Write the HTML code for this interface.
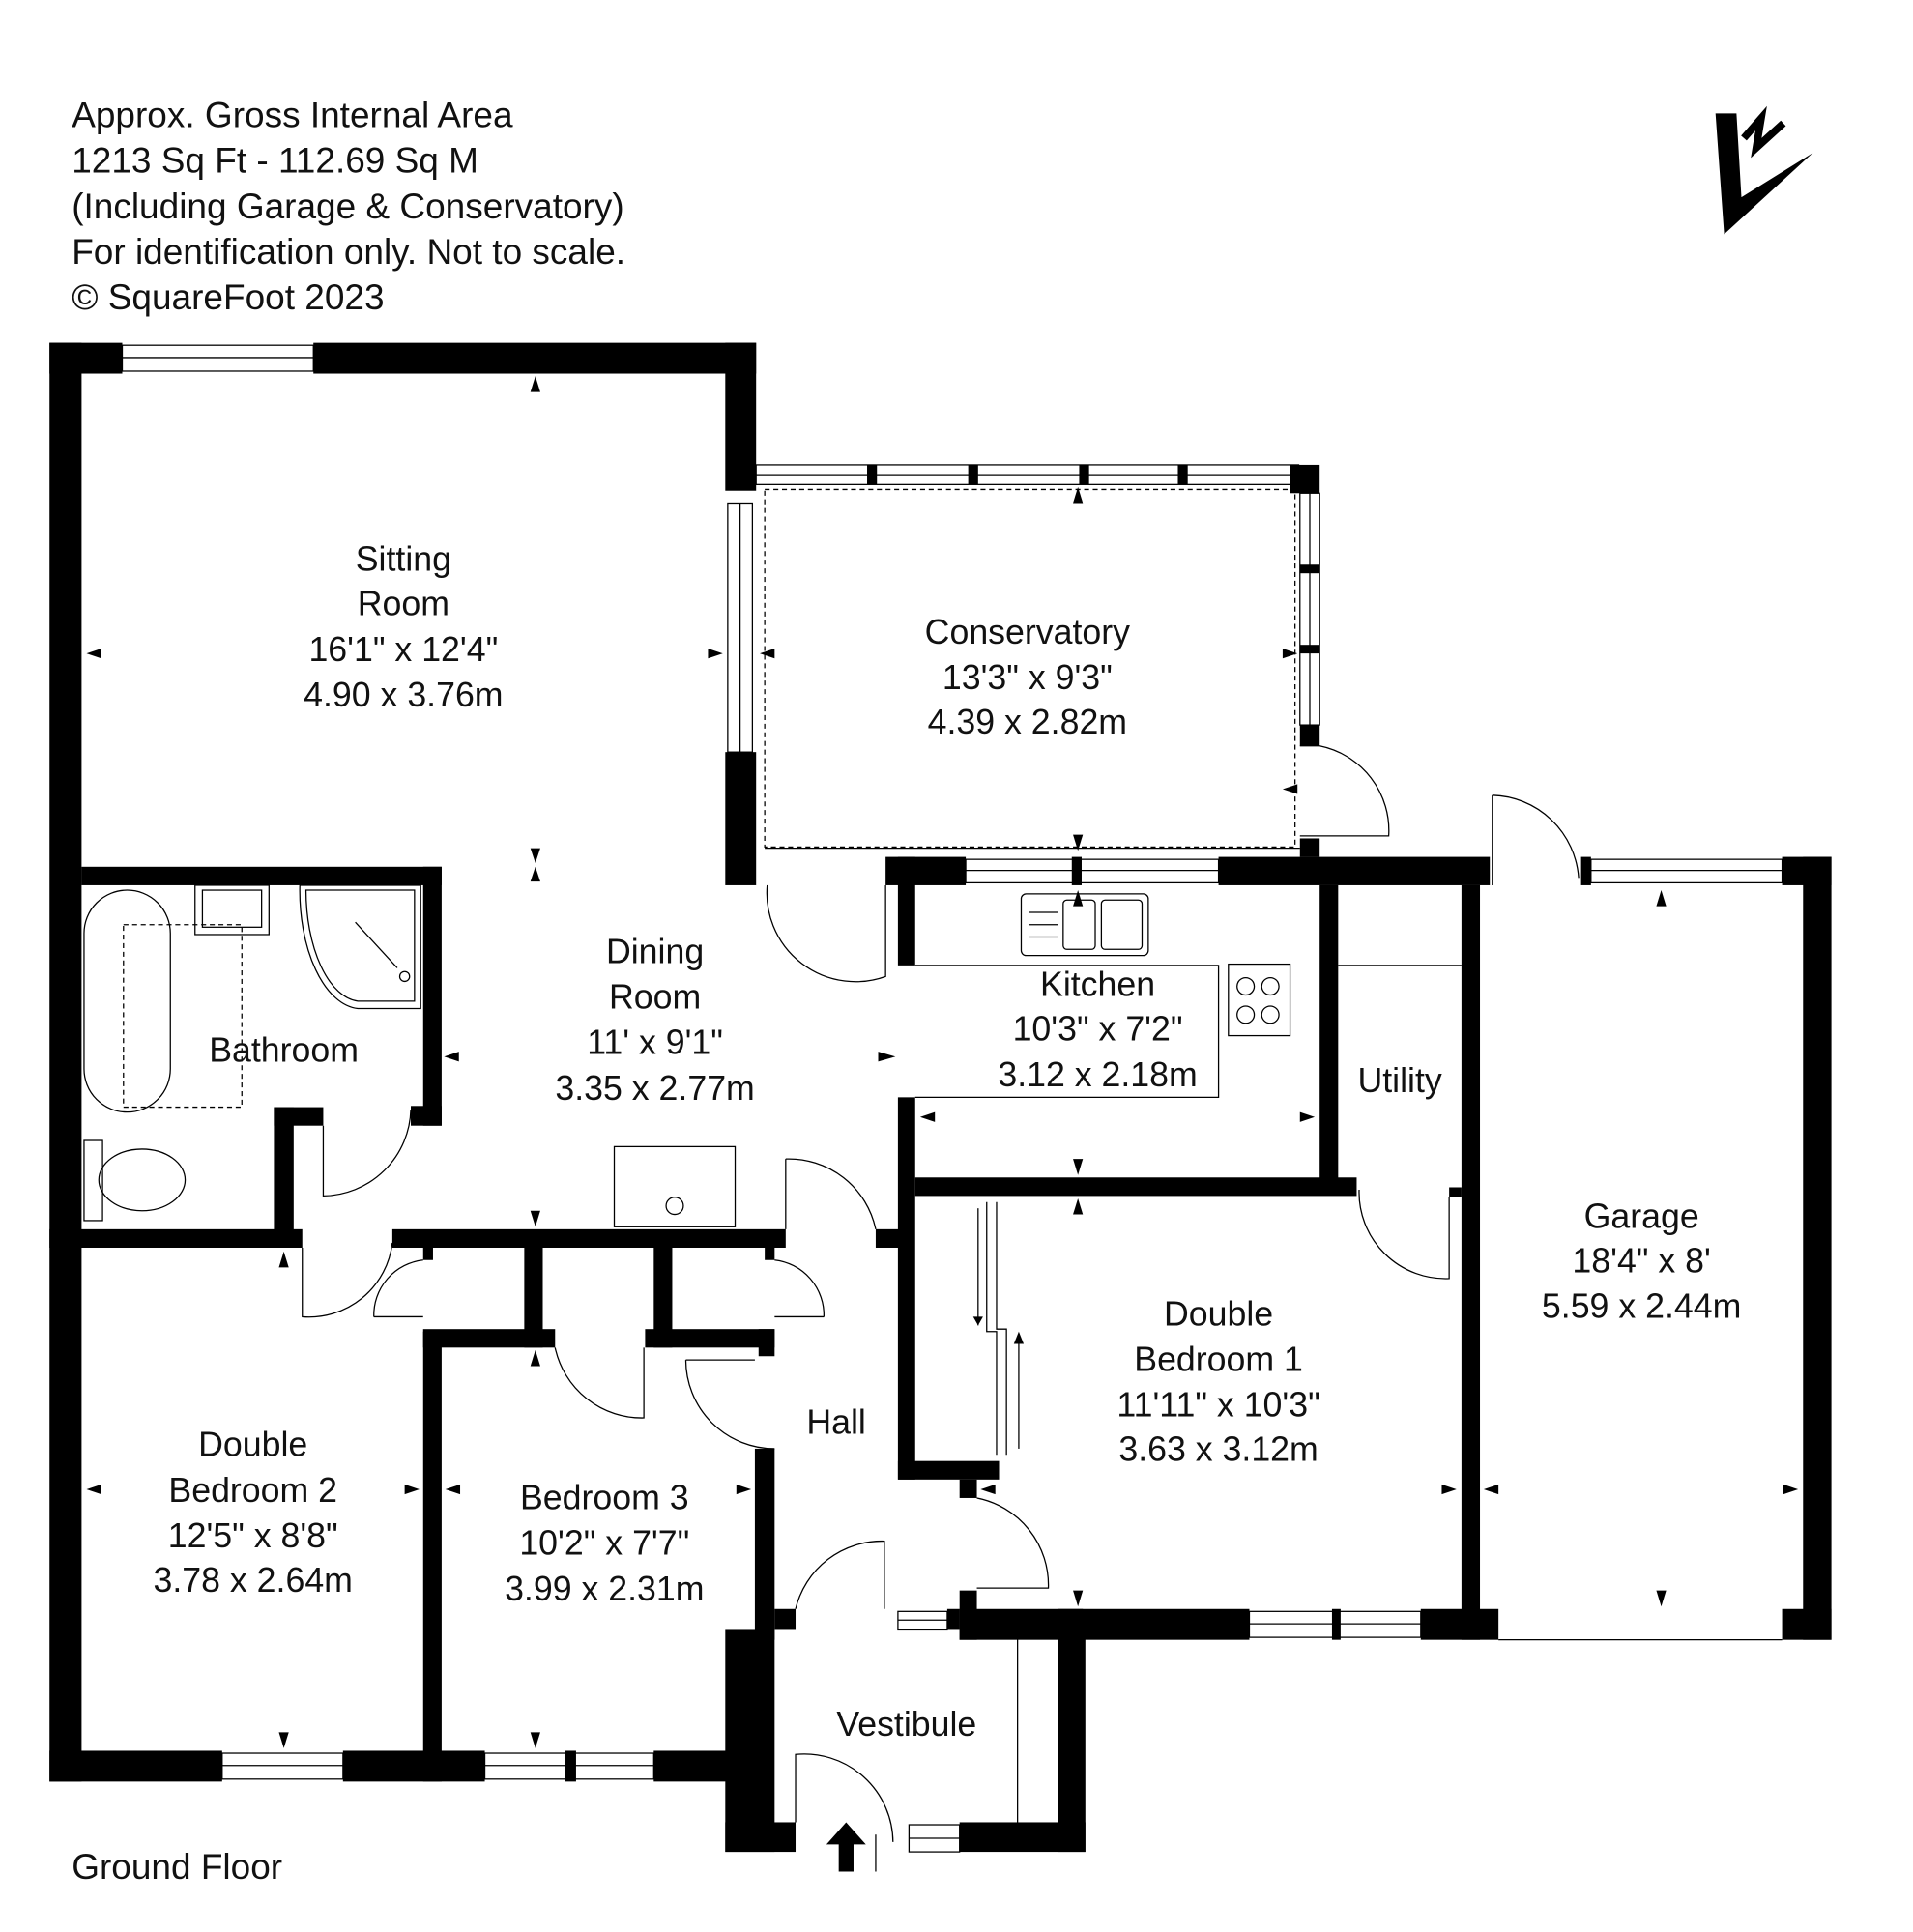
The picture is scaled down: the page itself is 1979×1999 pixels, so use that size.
<!DOCTYPE html>
<html><head><meta charset="utf-8"><style>
html,body{margin:0;padding:0;background:#fff;}
svg{display:block;}
text{font-family:"Liberation Sans",Arial,sans-serif;fill:#111;}
</style></head><body>
<svg width="1979" height="1999" viewBox="0 0 1551 1567" xmlns="http://www.w3.org/2000/svg">
<rect width="1551" height="1567" fill="#fff"/>
<g font-size="29">
<text x="58" y="103">Approx. Gross Internal Area</text>
<text x="58" y="140">1213 Sq Ft  -  112.69 Sq M</text>
<text x="58" y="177">(Including Garage &amp; Conservatory)</text>
<text x="58" y="214">For identification only. Not to scale.</text>
<text x="58" y="251">© SquareFoot 2023</text>
<text x="58" y="1524">Ground Floor</text>
</g>
<polygon points="1391,92 1408,92 1412,160 1470,124 1398,190" fill="#000"/>
<path d="M1414,112 L1428,96 L1424,120 L1446,100" stroke="#000" stroke-width="6" fill="none"/>

<g fill="#000">
<rect x="40" y="278" width="59" height="25"/>
<rect x="254" y="278" width="359" height="25"/>
<rect x="40" y="278" width="26" height="1167"/>
<rect x="588" y="278" width="25" height="120"/>
<rect x="588" y="610" width="25" height="108"/>
<rect x="703" y="377" width="8" height="16"/><rect x="785" y="377" width="8" height="16"/>
<rect x="875" y="377" width="8" height="16"/><rect x="955" y="377" width="8" height="16"/>
<rect x="1046" y="377" width="24" height="23"/>
<rect x="1054" y="458" width="16" height="7"/><rect x="1054" y="523" width="16" height="7"/>
<rect x="1054" y="588" width="16" height="17"/>
<rect x="1054" y="680" width="16" height="15"/>
<rect x="718" y="695" width="65" height="23"/>
<rect x="988" y="695" width="220" height="23"/>
<rect x="869" y="695" width="8" height="23"/>
<rect x="1282" y="695" width="8" height="23"/>
<rect x="1445" y="695" width="40" height="23"/>
<rect x="1462" y="695" width="23" height="635"/>
<rect x="1445" y="1305" width="40" height="25"/>
<rect x="728" y="695" width="14" height="88"/>
<rect x="728" y="890" width="14" height="310"/>
<rect x="710" y="997" width="20" height="15"/>
<rect x="742" y="955" width="358" height="15"/>
<rect x="1070" y="718" width="15" height="247"/>
<rect x="1185" y="718" width="15" height="612"/>
<rect x="1175" y="963" width="10" height="8"/>
<rect x="728" y="1185" width="82" height="15"/>
<rect x="778" y="1200" width="14" height="15"/>
<rect x="778" y="1290" width="14" height="40"/>
<rect x="778" y="1305" width="235" height="25"/>
<rect x="1080" y="1305" width="7" height="25"/>
<rect x="1152" y="1305" width="63" height="25"/>
<rect x="66" y="703" width="292" height="15"/>
<rect x="343" y="703" width="15" height="210"/>
<rect x="333" y="897" width="25" height="16"/>
<rect x="222" y="898" width="40" height="15"/>
<rect x="222" y="898" width="16" height="112"/>
<rect x="40" y="997" width="205" height="15"/>
<rect x="318" y="997" width="319" height="15"/>
<rect x="343" y="1012" width="8" height="10"/>
<rect x="620" y="1012" width="8" height="10"/>
<rect x="425" y="1012" width="15" height="81"/>
<rect x="530" y="1012" width="15" height="81"/>
<rect x="343" y="1078" width="107" height="15"/>
<rect x="523" y="1078" width="105" height="15"/>
<rect x="615" y="1078" width="13" height="22"/>
<rect x="343" y="1080" width="15" height="365"/>
<rect x="40" y="1420" width="140" height="25"/>
<rect x="278" y="1420" width="115" height="25"/>
<rect x="458" y="1420" width="9" height="25"/>
<rect x="530" y="1420" width="80" height="25"/>
<rect x="612" y="1175" width="16" height="155"/>
<!-- vestibule -->
<rect x="588" y="1322" width="40" height="180"/>
<rect x="588" y="1478" width="57" height="24"/>
<rect x="778" y="1478" width="102" height="24"/>
<rect x="858" y="1322" width="22" height="180"/>
<rect x="628" y="1305" width="17" height="17"/>
<rect x="768" y="1305" width="10" height="17"/>
<rect x="858" y="1305" width="20" height="25"/>
<polygon points="670,1496 686,1478 702,1496 692,1496 692,1518 680,1518 680,1496"/>
</g>

<g fill="none" stroke="#000" stroke-width="1">
<rect x="99" y="280" width="155" height="21"/><line x1="99" y1="290" x2="254" y2="290"/>
<rect x="590" y="408" width="20" height="202"/><line x1="600" y1="408" x2="600" y2="610"/>
<rect x="613" y="377" width="440" height="16"/><line x1="613" y1="385" x2="1046" y2="385"/>
<rect x="1054" y="400" width="16" height="188"/><line x1="1062" y1="400" x2="1062" y2="588"/>
<rect x="783" y="697" width="205" height="19"/><line x1="783" y1="706" x2="988" y2="706"/>
<rect x="1290" y="697" width="155" height="19"/><line x1="1290" y1="706" x2="1445" y2="706"/>
<rect x="1013" y="1307" width="139" height="21"/><line x1="1013" y1="1317" x2="1152" y2="1317"/>
<rect x="180" y="1422" width="98" height="21"/><line x1="180" y1="1432" x2="278" y2="1432"/>
<rect x="393" y="1422" width="137" height="21"/><line x1="393" y1="1432" x2="530" y2="1432"/>
<rect x="728" y="1307" width="40" height="15"/><line x1="728" y1="1314" x2="768" y2="1314"/>
<rect x="737" y="1480" width="41" height="22"/><line x1="737" y1="1491" x2="778" y2="1491"/>
<line x1="1215" y1="1330" x2="1445" y2="1330"/>
<line x1="825" y1="1322" x2="825" y2="1478"/>
<line x1="620" y1="688" x2="1054" y2="688"/>
<rect x="620" y="397" width="430" height="290" stroke-dasharray="4,3"/>
<path d="M1054,605 L1070,605 A70,70 0 0 1 1126,678 L1054,678"/>
<path d="M1210,645 L1210,718 M1210,645 A72,72 0 0 1 1280,712"/>
<path d="M622,718 A72,72 0 0 0 718,792 L718,718"/>
<path d="M262,913 L262,970 A72,72 0 0 0 333,900"/>
<path d="M245,1012 L245,1068 A68,68 0 0 0 318,1008"/>
<path d="M303,1068 L343,1068 M303,1068 A45,45 0 0 1 343,1022"/>
<path d="M668,1068 L628,1068 M668,1068 A45,45 0 0 0 628,1022"/>
<path d="M450,1093 A72,72 0 0 0 522,1150 L522,1093"/>
<path d="M556,1103 L612,1103 M556,1103 A72,72 0 0 0 628,1175"/>
<path d="M637,940 L637,997 M637,940 A72,72 0 0 1 710,997"/>
<path d="M1102,965 A70,70 0 0 0 1175,1037 L1175,971"/>
<path d="M792,1215 A72,72 0 0 1 850,1288 L792,1288"/>
<path d="M645,1305 A72,72 0 0 1 717,1250 L717,1305"/>
<path d="M645,1478 L645,1423 A72,72 0 0 1 724,1494"/>
<path d="M710,1488 L710,1518"/>
<path d="M742,783 L988,783 L988,890 L742,890"/>
<rect x="828" y="725" width="103" height="50" rx="4"/>
<rect x="862" y="730" width="26" height="40" rx="3"/><rect x="893" y="730" width="33" height="40" rx="3"/>
<line x1="834" y1="740" x2="858" y2="740"/><line x1="834" y1="750" x2="858" y2="750"/><line x1="834" y1="760" x2="858" y2="760"/>
<rect x="996" y="782" width="50" height="58"/>
<circle cx="1010" cy="800" r="7"/><circle cx="1030" cy="800" r="7"/><circle cx="1010" cy="823" r="7"/><circle cx="1030" cy="823" r="7"/>
<line x1="1085" y1="783" x2="1185" y2="783"/>
<rect x="498" y="930" width="98" height="65"/><circle cx="547" cy="978" r="7"/>
<rect x="68" y="722" width="70" height="180" rx="35"/>
<rect x="100" y="750" width="96" height="148" stroke-dasharray="4,3"/>
<rect x="158" y="718" width="60" height="40"/><rect x="164" y="722" width="48" height="30"/>
<path d="M248,722 L336,722 L336,812 L290,812 A45,90 0 0 1 248,722 Z"/>
<path d="M243,718 L341,718 L341,818 L290,818 A50,96 0 0 1 243,718"/>
<line x1="288" y1="748" x2="322" y2="785"/><circle cx="328" cy="792" r="4"/>
<rect x="68" y="925" width="15" height="65"/>
<ellipse cx="115" cy="957" rx="35" ry="25"/>
<path d="M800,975 L800,1080 L808,1080 L808,1180"/>
<path d="M808,975 L808,1078 L816,1078 L816,1180"/>
<line x1="793" y1="980" x2="793" y2="1075"/><line x1="826" y1="1085" x2="826" y2="1175"/>
</g>
<g fill="#000">
<polygon points="789,1068 793,1075 797,1068"/>
<polygon points="822,1090 826,1080 830,1090"/>
</g>

<g fill="#000">
<polygon points="430,318 434,305 438,318"/>
<polygon points="70,530 82,526 82,534"/><polygon points="586,530 574,526 574,534"/>
<polygon points="430,688 434,700 438,688"/><polygon points="430,715 434,703 438,715"/>
<polygon points="870,408 874,395 878,408"/><polygon points="870,677 874,690 878,677"/>
<polygon points="616,530 628,526 628,534"/><polygon points="1052,530 1040,526 1040,534"/>
<polygon points="1040,640 1052,636 1052,644"/>
<polygon points="870,735 874,722 878,735"/>
<polygon points="360,857 372,853 372,861"/><polygon points="726,857 712,853 712,861"/>
<polygon points="430,982 434,995 438,982"/>
<polygon points="746,906 758,902 758,910"/><polygon points="1066,906 1054,902 1054,910"/>
<polygon points="870,940 874,953 878,940"/><polygon points="870,985 874,972 878,985"/>
<polygon points="1343,735 1347,722 1351,735"/><polygon points="1343,1290 1347,1303 1351,1290"/>
<polygon points="226,1028 230,1015 234,1028"/>
<polygon points="70,1208 82,1204 82,1212"/><polygon points="340,1208 328,1204 328,1212"/>
<polygon points="361,1208 373,1204 373,1212"/><polygon points="609,1208 597,1204 597,1212"/>
<polygon points="430,1108 434,1095 438,1108"/>
<polygon points="226,1405 230,1418 234,1405"/><polygon points="430,1405 434,1418 438,1405"/>
<polygon points="795,1208 807,1204 807,1212"/><polygon points="1181,1208 1169,1204 1169,1212"/>
<polygon points="1203,1208 1215,1204 1215,1212"/><polygon points="1458,1208 1446,1204 1446,1212"/>
<polygon points="870,1290 874,1303 878,1290"/>
</g>

<g font-size="28" text-anchor="middle">
<text x="327" y="463">Sitting</text><text x="327" y="499">Room</text>
<text x="327" y="536">16'1" x 12'4"</text><text x="327" y="573">4.90 x 3.76m</text>
<text x="833" y="522">Conservatory</text><text x="833" y="559">13'3" x 9'3"</text><text x="833" y="595">4.39 x 2.82m</text>
<text x="531" y="781">Dining</text><text x="531" y="818">Room</text>
<text x="531" y="855">11' x 9'1"</text><text x="531" y="892">3.35 x 2.77m</text>
<text x="230" y="861">Bathroom</text>
<text x="890" y="808">Kitchen</text><text x="890" y="844">10'3" x 7'2"</text><text x="890" y="881">3.12 x 2.18m</text>
<text x="1135" y="886">Utility</text>
<text x="1331" y="996">Garage</text><text x="1331" y="1032">18'4" x 8'</text><text x="1331" y="1069">5.59 x 2.44m</text>
<text x="988" y="1075">Double</text><text x="988" y="1112">Bedroom 1</text><text x="988" y="1149">11'11" x 10'3"</text><text x="988" y="1185">3.63 x 3.12m</text>
<text x="678" y="1163">Hall</text>
<text x="205" y="1181">Double</text><text x="205" y="1218">Bedroom 2</text><text x="205" y="1255">12'5" x 8'8"</text><text x="205" y="1291">3.78 x 2.64m</text>
<text x="490" y="1224">Bedroom 3</text><text x="490" y="1261">10'2" x 7'7"</text><text x="490" y="1298">3.99 x 2.31m</text>
<text x="735" y="1408">Vestibule</text>
</g>
</svg>
</body></html>
